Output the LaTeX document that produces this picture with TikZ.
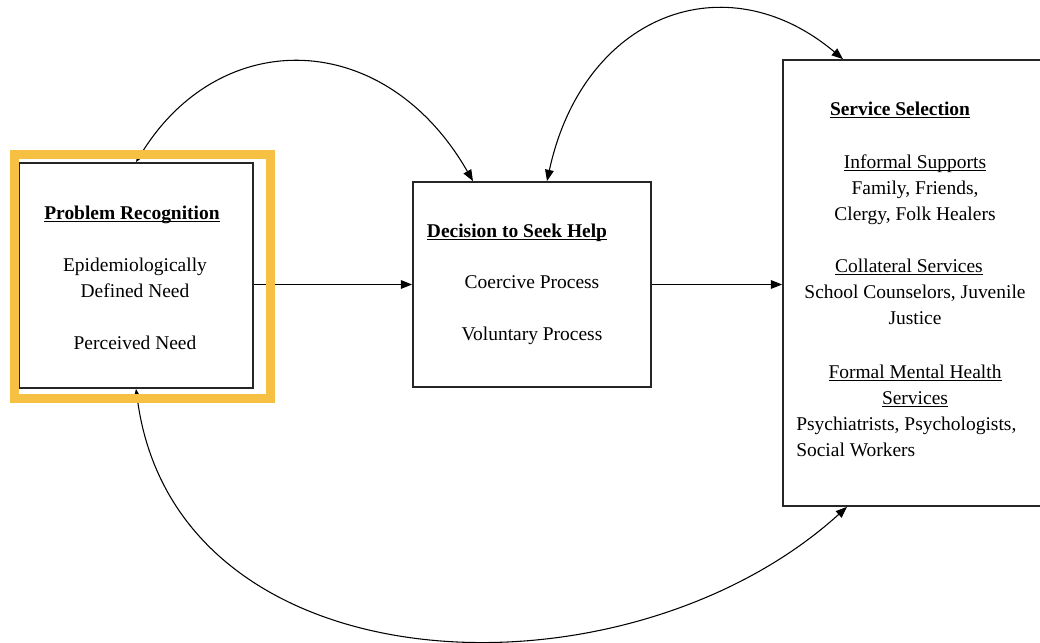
\documentclass[tikz,border=0pt]{standalone}
\usepackage{fontspec}
\setmainfont{Liberation Serif}
\usetikzlibrary{arrows.meta}
\definecolor{hiliteyellow}{RGB}{246,192,66}
% underline that sits just below the baseline, ignoring descenders
\newcommand\undl[1]{\underline{\smash{#1}}}
\begin{document}
\begin{tikzpicture}[x=0.75pt,y=-0.75pt,
  box/.style={draw=black!85, line width=1.3pt, fill=white, inner sep=0pt},
  txt/.style={inner sep=0pt, anchor=base, font=\fontsize{14.6}{17}\selectfont},
  head/.style={txt, font=\fontsize{14.6}{17}\selectfont\bfseries},
  tip/.tip={Triangle[length=8.5pt,width=6.5pt]},
  link/.style={draw=black, line width=0.8pt, -tip},
  link2/.style={link, tip-tip},
  hilite/.style={draw=hiliteyellow, line width=6.75pt}]
\useasboundingbox (0,0) rectangle (1040,643);
\clip (0,0) rectangle (1040,643);

% the three stages
\node[box, minimum width=175.5pt, minimum height=168.75pt] (lb) at (136,275.5) {};
\node[box, minimum width=178.5pt, minimum height=153.75pt] (mb) at (532,284.5) {};
\node[box, minimum width=225pt, minimum height=334.5pt] (rb) at (933,283) {};

% problem recognition
\node[head] (lt) at (132,219) {\undl{Problem Recognition}};
\node[txt] (l1) at (135,271) {Epidemiologically};
\node[txt] (l2) at (135,297) {Defined Need};
\node[txt] (l3) at (135,349) {Perceived Need};

% decision to seek help
\node[head] (mt) at (517,237) {\undl{Decision to Seek Help}};
\node[txt] (m1) at (532,288) {Coercive Process};
\node[txt] (m2) at (532,340) {Voluntary Process};

% service selection
\node[head] (rt) at (900,115) {\undl{Service Selection}};
\node[txt] (r1) at (915,168) {\undl{Informal Supports}};
\node[txt] (r2) at (915,194) {Family, Friends,};
\node[txt] (r3) at (915,220) {Clergy, Folk Healers};
\node[txt] (r4) at (909,272) {\undl{Collateral Services}};
\node[txt] (r5) at (915,298) {School Counselors, Juvenile};
\node[txt] (r6) at (915,324) {Justice};
\node[txt] (r7) at (915,378) {\undl{Formal Mental Health}};
\node[txt] (r8) at (915,404) {\undl{Services}};
\node[txt, anchor=base west] (r9) at (796,430) {Psychiatrists, Psychologists,};
\node[txt, anchor=base west] (r10) at (796,456) {Social Workers};

% straight flow
\draw[link] (lb.east |- mb.west) -- (mb.west);
\draw[link] (mb.east) -- (rb.west |- mb.east);

% feedback arcs
\draw[link2] (lb.north) .. controls (221,25) and (385,28) .. (473,0 |- mb.north);
\draw[link2] (547,0 |- mb.north) .. controls (583,15) and (725,-40) .. (843,0 |- rb.north);
\draw[link2] (lb.south) .. controls (177,692) and (625,708) .. (847,0 |- rb.south);

% highlight frame round the first stage
\draw[hilite] (14.5,154.5) rectangle (270.5,398.5);
\end{tikzpicture}
\end{document}
